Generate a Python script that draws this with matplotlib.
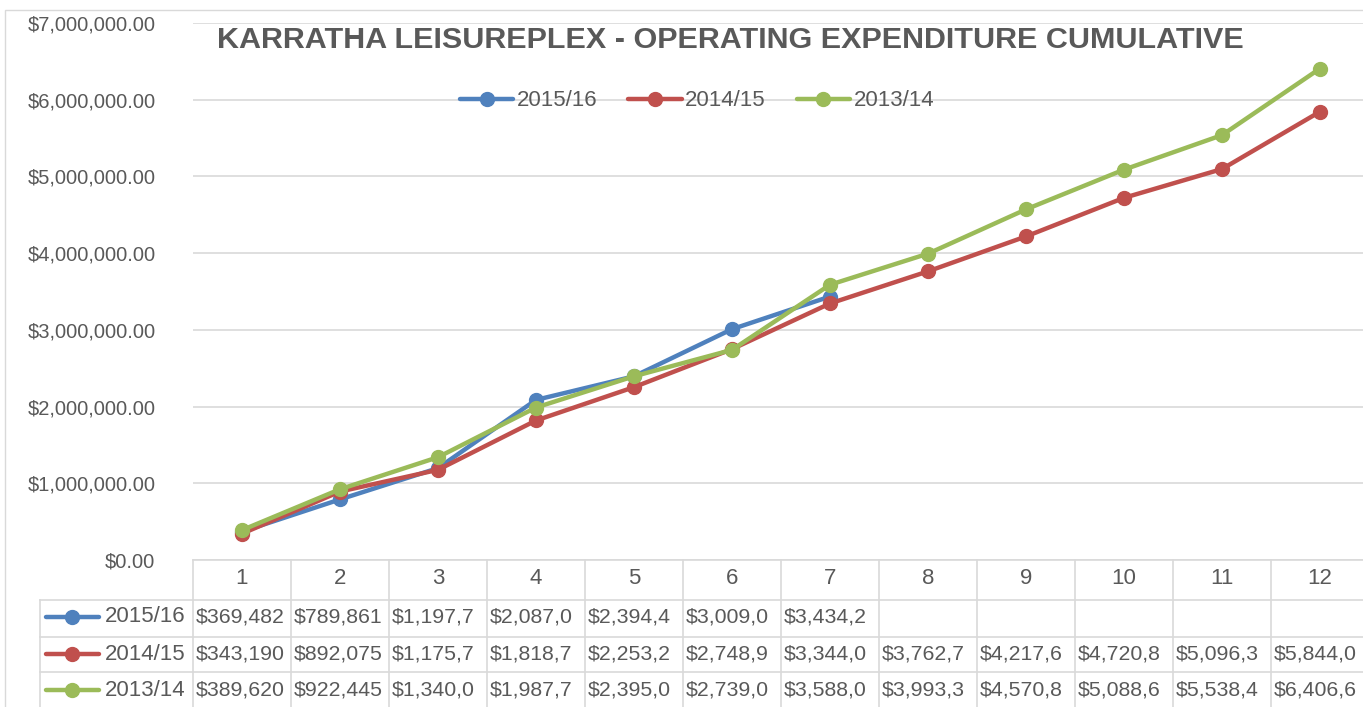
import matplotlib
matplotlib.use('Agg')
import matplotlib.pyplot as plt
import matplotlib.transforms as mtransforms
from matplotlib.lines import Line2D
from matplotlib.patches import Rectangle

plt.rcParams['font.family'] = ['Liberation Sans', 'DejaVu Sans']

months = list(range(1, 13))
series_names = ['2015/16', '2014/15', '2013/14']
exp_1516 = [369482, 789861, 1197700, 2087000, 2394400, 3009000, 3434200]
exp_1415 = [343190, 892075, 1175700, 1818700, 2253200, 2748900, 3344000,
            3762700, 4217600, 4720800, 5096300, 5844000]
exp_1314 = [389620, 922445, 1340000, 1987700, 2395000, 2739000, 3588000,
            3993300, 4570800, 5088600, 5538400, 6406600]
colors = ['#4f81bd', '#c0504d', '#9bbb59']
yticks = [0, 1e6, 2e6, 3e6, 4e6, 5e6, 6e6, 7e6]

W, H = 1363, 707
fig = plt.figure(figsize=(W / 100, H / 100), dpi=100)

def fx(px):
    return px / W

def fy(py):
    return 1 - py / H

txt = '#595959'
grid = '#d9d9d9'

# chart border
fig.add_artist(Rectangle((fx(5), fy(740)), fx(1400), fy(10) - fy(740),
                         transform=fig.transFigure, fill=False,
                         edgecolor=grid, linewidth=1))

ax = fig.add_axes([fx(193), fy(560), fx(1176), fy(23) - fy(560)])
ax.set_xlim(0.5, 12.5)
ax.set_ylim(0, 7e6)
for s in ax.spines.values():
    s.set_visible(False)
ax.set_xticks([])
ax.set_yticks(yticks)
ax.set_yticklabels(['${:,.2f}'.format(v) for v in yticks], color=txt, fontsize=14.5)
ax.tick_params(axis='y', length=0, pad=27)
ax.grid(axis='y', color=grid, linewidth=1.2)
ax.set_axisbelow(True)

all_series = [exp_1516, exp_1415, exp_1314]
for name, vals, c in zip(series_names, all_series, colors):
    ax.plot(months[:len(vals)], vals, color=c, linewidth=3.2, marker='o',
            markersize=10, label=name, solid_capstyle='round')

title = fig.text(fx(730), fy(40), 'KARRATHA LEISUREPLEX - OPERATING EXPENDITURE CUMULATIVE',
                 ha='center', va='center', fontsize=22, fontweight='bold', color=txt)
# fit title width to about 1025 px
r = fig.canvas.get_renderer()
w = title.get_window_extent(renderer=r).width
title.set_fontsize(22 * 1025 / w)

leg = ax.legend(loc='center', bbox_to_anchor=(fx(697), fy(101)),
                bbox_transform=fig.transFigure, ncol=3, frameon=False,
                fontsize=16, handlelength=2.4, handletextpad=0.15,
                columnspacing=1.4)
for t in leg.get_texts():
    t.set_color(txt)

# data table
tr = mtransforms.blended_transform_factory(ax.transData, fig.transFigure)
row_y = [560, 600, 637, 672, 707]
lw = 1.2
for yy in row_y[:-1]:
    fig.add_artist(Line2D([0.5, 13.0], [fy(yy), fy(yy)], transform=tr,
                          color=grid, linewidth=lw))
for yy in row_y[1:-1]:
    fig.add_artist(Line2D([fx(40), fx(193)], [fy(yy), fy(yy)],
                          transform=fig.transFigure, color=grid, linewidth=lw))
for k in range(13):
    fig.add_artist(Line2D([k + 0.5, k + 0.5], [fy(560), fy(710)], transform=tr,
                          color=grid, linewidth=lw))
fig.add_artist(Line2D([fx(40), fx(40)], [fy(600), fy(710)],
                      transform=fig.transFigure, color=grid, linewidth=lw))

for m in months:
    ax.text(m, fy(579), str(m), transform=tr, ha='center', va='center',
            fontsize=16, color=txt)

row_centers = [617, 654, 690]
for name, vals, c, yc in zip(series_names, all_series, colors, row_centers):
    fig.add_artist(Line2D([fx(46), fx(99)], [fy(yc), fy(yc)],
                          transform=fig.transFigure, color=c, linewidth=3.2,
                          solid_capstyle='round'))
    fig.add_artist(Line2D([fx(72)], [fy(yc)], transform=fig.transFigure,
                          color=c, marker='o', markersize=10))
    fig.text(fx(186), fy(yc), name, ha='right', va='center', fontsize=16, color=txt)
    for m, v in zip(months, vals):
        s = '${:,.0f}'.format(v)[:8]
        ax.text(m - 0.5 + 0.03, fy(yc), s, transform=tr, ha='left', va='center',
                fontsize=15.3, color=txt)

fig.savefig('out.png', dpi=100)
